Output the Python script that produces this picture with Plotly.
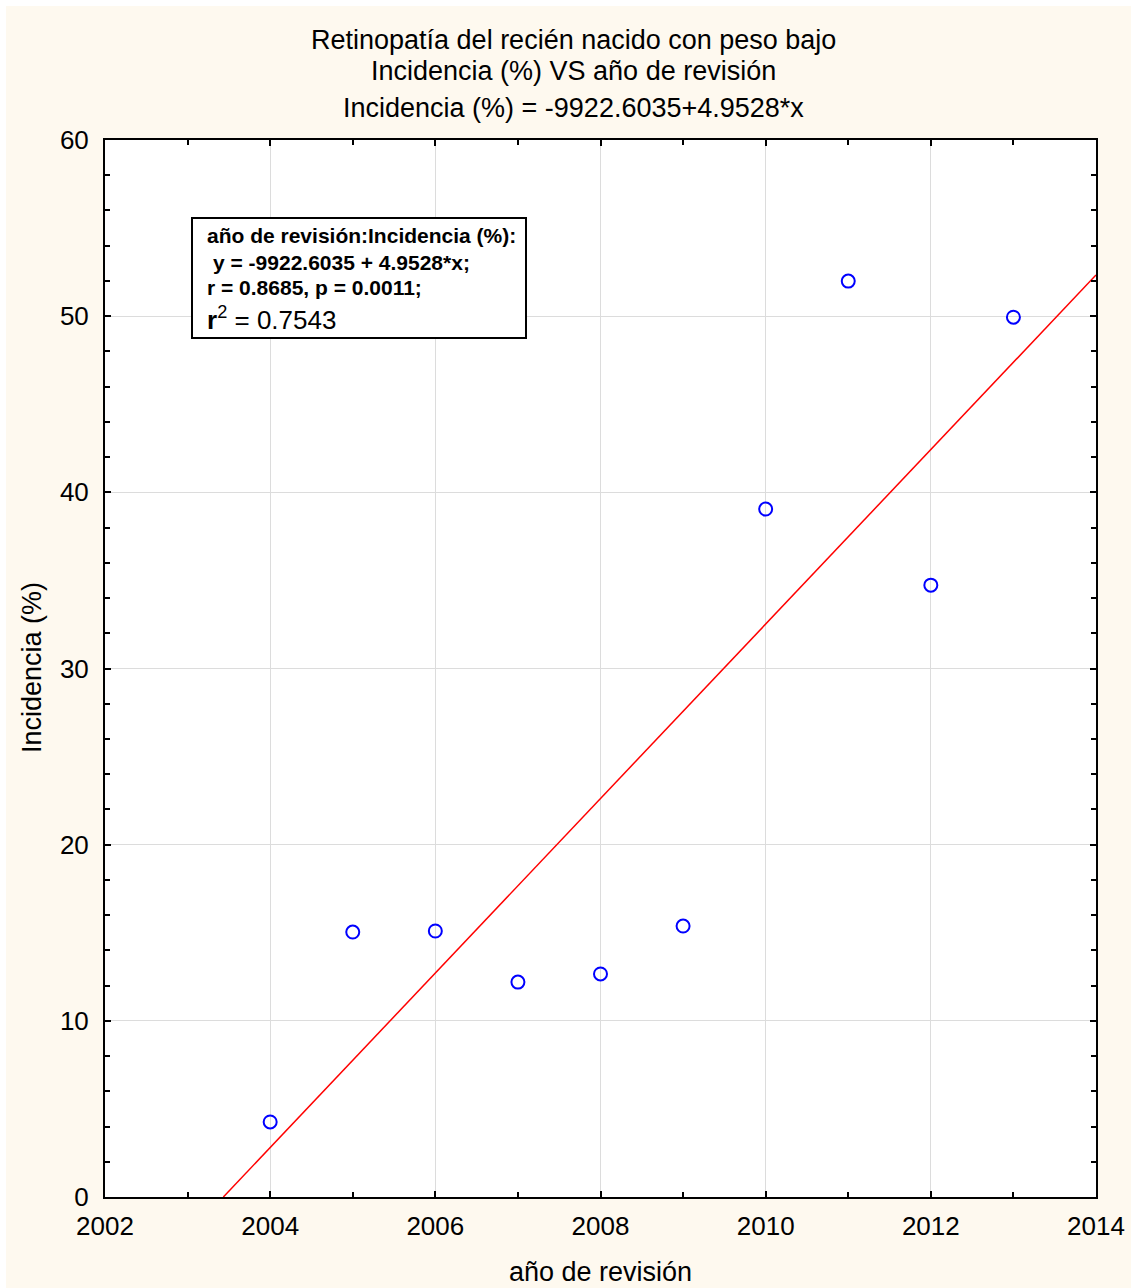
import plotly.graph_objects as go

# Data: year of review vs incidence (%)
years = [2004, 2005, 2006, 2007, 2008, 2009, 2010, 2011, 2012, 2013]
incidence = [4.26, 15.04, 15.1, 12.2, 12.66, 15.38, 39.05, 51.99, 34.73, 49.94]

# Linear fit coefficients
intercept = -9922.6035
slope = 4.9528

x_range = [2002, 2014]
y_range = [0, 60]

FONT = "Arial, Liberation Sans, sans-serif"
CREAM = "#FEF9EF"

# Fitted line, clipped where it crosses y = 0
x_fit = [-intercept / slope, x_range[1]]
y_fit = [intercept + slope * x for x in x_fit]

fig = go.Figure()
fig.add_trace(go.Scatter(
    x=x_fit, y=y_fit, mode="lines",
    line=dict(color="#FF0000", width=1.5),
    showlegend=False, hoverinfo="skip",
))
fig.add_trace(go.Scatter(
    x=years, y=incidence, mode="markers",
    marker=dict(symbol="circle-open", size=13, color="#0000FF",
                line=dict(width=2, color="#0000FF")),
    showlegend=False,
))

W, H = 1131, 1288
L, R, T, B = 105, 35, 140, 91
pw, ph = W - L - R, H - T - B


def px(xp):
    return (xp - L) / pw


def py(yp):
    return (H - B - yp) / ph


axis_common = dict(
    showline=True, linecolor="black", linewidth=2, mirror="ticks",
    ticks="inside", ticklen=6, tickwidth=1.5, tickcolor="black",
    showgrid=True, gridcolor="#DCDCDC", gridwidth=1,
    zeroline=False, tickfont=dict(family=FONT, size=26, color="black"),
    automargin=False,
)

fig.update_xaxes(range=x_range, dtick=2, tick0=2002, ticklabelstandoff=5,
                 minor=dict(dtick=1, ticks="inside", ticklen=5, tickcolor="black",
                            tickwidth=1.5, showgrid=False),
                 **axis_common)
fig.update_yaxes(range=y_range, dtick=10, tick0=0, ticklabelstandoff=9,
                 minor=dict(dtick=2, ticks="inside", ticklen=5, tickcolor="black",
                            tickwidth=1.5, showgrid=False),
                 **axis_common)

annotations = []
# Title lines
title_lines = [
    ("Retinopatía del recién nacido con peso bajo", 40),
    ("Incidencia (%) VS año de revisión", 71),
    ("Incidencia (%) = -9922.6035+4.9528*x", 108),
]
for text, yy in title_lines:
    annotations.append(dict(text=text, x=px(573), y=py(yy), xref="paper", yref="paper",
                            xanchor="center", yanchor="middle", showarrow=False,
                            font=dict(family=FONT, size=27, color="black")))

# Axis titles
annotations.append(dict(text="año de revisión", x=px(600), y=py(1272), xref="paper", yref="paper",
                        xanchor="center", yanchor="middle", showarrow=False,
                        font=dict(family=FONT, size=27, color="black")))
annotations.append(dict(text="Incidencia (%)", x=px(32), y=py(668), xref="paper", yref="paper",
                        xanchor="center", yanchor="middle", showarrow=False, textangle=-90,
                        font=dict(family=FONT, size=27, color="black")))

# Regression summary box
box_lines = [
    ("<b>año de revisión:Incidencia (%):</b>", 236, 21, 205),
    ("<b>y = -9922.6035 + 4.9528*x;</b>", 262, 21, 211),
    ("<b>r = 0.8685, p = 0.0011;</b>", 287, 21, 205),
    ("<b>r</b><sup>2</sup> = 0.7543", 318, 26, 205),
]
for text, yy, size, xx in box_lines:
    annotations.append(dict(text=text, x=px(xx), y=py(yy), xref="paper", yref="paper",
                            xanchor="left", yanchor="middle", showarrow=False,
                            font=dict(family=FONT, size=size, color="black")))

shapes = [
    dict(type="rect", xref="paper", yref="paper",
         x0=px(192), x1=px(526), y0=py(338), y1=py(218),
         line=dict(color="black", width=2), fillcolor="white", layer="above"),
    # thin white strips along the top and left page edges
    dict(type="rect", xref="paper", yref="paper",
         x0=px(0), x1=px(W), y0=py(6), y1=py(0),
         line=dict(width=0), fillcolor="white", layer="below"),
    dict(type="rect", xref="paper", yref="paper",
         x0=px(0), x1=px(6), y0=py(H), y1=py(0),
         line=dict(width=0), fillcolor="white", layer="below"),
]

fig.update_layout(
    width=W, height=H,
    margin=dict(l=L, r=R, t=T, b=B),
    paper_bgcolor=CREAM, plot_bgcolor="white",
    font=dict(family=FONT, color="black"),
    annotations=annotations, shapes=shapes,
    showlegend=False,
)

fig.write_html("out.html")
